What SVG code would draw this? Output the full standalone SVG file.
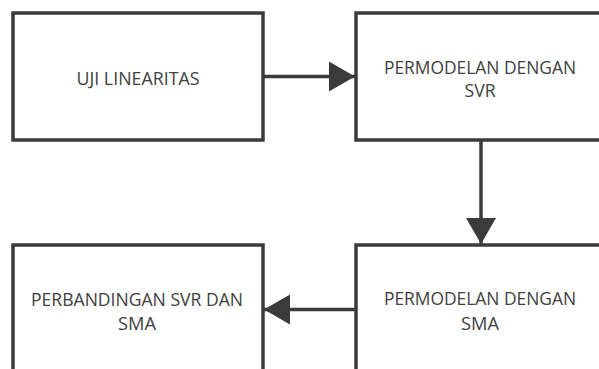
<svg xmlns="http://www.w3.org/2000/svg" width="599" height="369" viewBox="0 0 599 369">
<defs>
<style>
.box{fill:#ffffff;stroke:#3b3b3b;stroke-width:3.5}
.lbl{font-family:"Open Sans","Noto Sans","Liberation Sans",sans-serif;font-size:18.5px;fill:#404040;text-anchor:middle}
.edge{stroke:#3b3b3b;stroke-width:3.5;fill:none;marker-end:url(#ah)}
</style>
<marker id="ah" markerUnits="userSpaceOnUse" markerWidth="27" markerHeight="31" refX="26" refY="15" orient="auto">
<path d="M0,0 L26,15 L0,30 Z" fill="#3b3b3b"/>
</marker>
</defs>
<rect width="599" height="369" fill="#ffffff"/>
<g id="node-uji">
<rect class="box" x="13" y="13" width="250" height="127"/>
<text class="lbl" x="138" y="85" textLength="123" lengthAdjust="spacingAndGlyphs">UJI LINEARITAS</text>
</g>
<g id="node-svr">
<rect class="box" x="356" y="13" width="250" height="127"/>
<text class="lbl" x="480" y="73.5" textLength="192" lengthAdjust="spacingAndGlyphs">PERMODELAN DENGAN</text>
<text class="lbl" x="480" y="97" textLength="31" lengthAdjust="spacingAndGlyphs">SVR</text>
</g>
<g id="node-sma">
<rect class="box" x="356" y="245" width="250" height="140"/>
<text class="lbl" x="480" y="305" textLength="192" lengthAdjust="spacingAndGlyphs">PERMODELAN DENGAN</text>
<text class="lbl" x="480" y="329.5" textLength="38" lengthAdjust="spacingAndGlyphs">SMA</text>
</g>
<g id="node-banding">
<rect class="box" x="13" y="245" width="250" height="140"/>
<text class="lbl" x="137" y="305.5" textLength="212" lengthAdjust="spacingAndGlyphs">PERBANDINGAN SVR DAN</text>
<text class="lbl" x="137" y="330" textLength="38" lengthAdjust="spacingAndGlyphs">SMA</text>
</g>
<g id="connectors">
<line class="edge" x1="263" y1="76.5" x2="355" y2="76.5"/>
<line class="edge" x1="481" y1="140" x2="481" y2="244"/>
<line class="edge" x1="356" y1="309.5" x2="264" y2="309.5"/>
</g>
</svg>
